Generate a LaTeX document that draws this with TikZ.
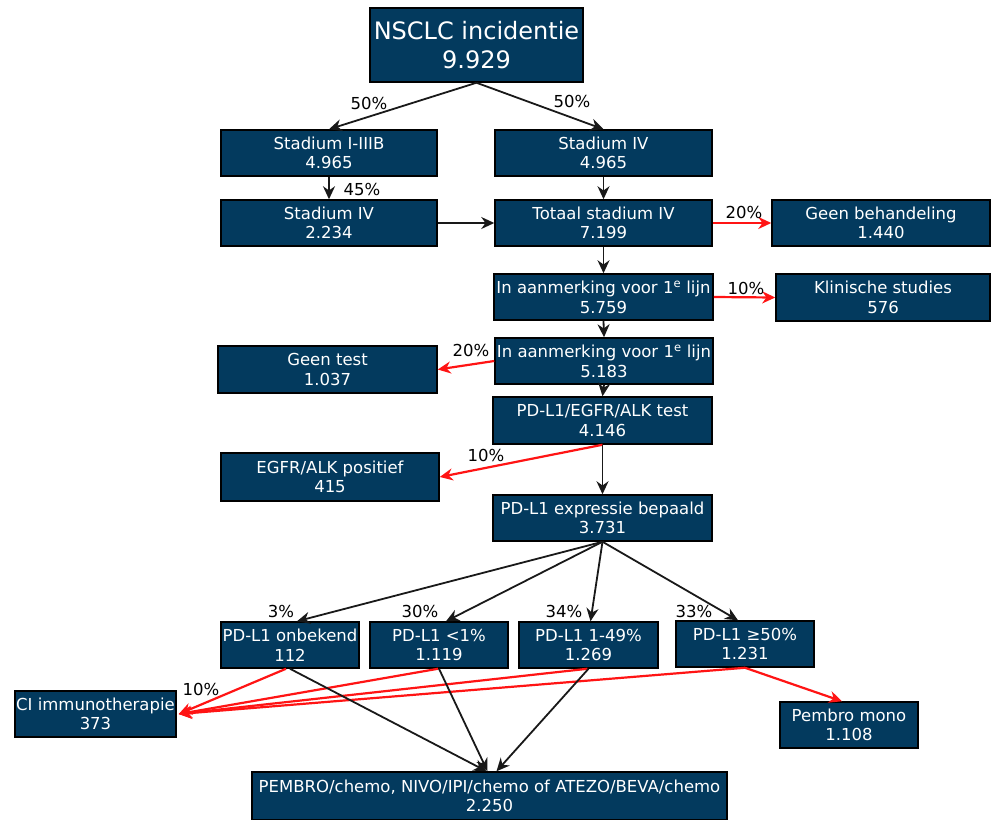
\documentclass[tikz,border=0pt]{standalone}
\usepackage{fontspec}
\setmainfont{DejaVu Sans}
\usetikzlibrary{arrows.meta,calc}
\definecolor{navy}{RGB}{3,58,94}
\definecolor{redline}{RGB}{255,20,20}
\tikzset{
  box/.style={draw=black, line width=1.5pt, fill=navy, text=white, align=center,
    inner sep=0pt, font=\fontsize{16.5}{19.5}\selectfont},
  pct/.style={text=black, inner sep=0pt, font=\fontsize{16.5}{19}\selectfont},
  blk/.style={draw=black!90, line width=1.8pt, -{Stealth[length=13pt,width=12pt]}},
  red/.style={draw=redline, line width=2.2pt, -{Stealth[length=13pt,width=12pt]}},
}
\begin{document}
\begin{tikzpicture}[x=1pt,y=-1pt]
\useasboundingbox[fill=white] (0,0) rectangle (992,819);
% nodes
\node[box, minimum width=213, minimum height=74, font=\fontsize{24}{29}\selectfont] (nsclc) at (476.5,45) {NSCLC incidentie\\9.929};
\node[box, minimum width=216, minimum height=46] (s13) at (329,153) {Stadium I-IIIB\\4.965};
\node[box, minimum width=217, minimum height=46] (s4r) at (603.5,153) {Stadium IV\\4.965};
\node[box, minimum width=216, minimum height=46] (s4l) at (329,223) {Stadium IV\\2.234};
\node[box, minimum width=217, minimum height=46] (tot) at (603.5,223) {Totaal stadium IV\\7.199};
\node[box, minimum width=218, minimum height=46] (geen) at (881,223) {Geen behandeling\\1.440};
\node[box, minimum width=219, minimum height=46] (aan1) at (603.5,297) {In aanmerking voor 1\textsuperscript{e} lijn\\5.759};
\node[box, minimum width=214, minimum height=47] (klin) at (883,297.5) {Klinische studies\\576};
\node[box, minimum width=218, minimum height=46] (aan2) at (604,361) {In aanmerking voor 1\textsuperscript{e} lijn\\5.183};
\node[box, minimum width=219, minimum height=47] (gtest) at (327.5,369.5) {Geen test\\1.037};
\node[box, minimum width=219, minimum height=47] (pdtest) at (602.5,420.5) {PD-L1/EGFR/ALK test\\4.146};
\node[box, minimum width=218, minimum height=48] (egfr) at (330,477) {EGFR/ALK positief\\415};
\node[box, minimum width=219, minimum height=46] (expr) at (602.5,518) {PD-L1 expressie bepaald\\3.731};
\node[box, minimum width=138, minimum height=46] (onb) at (290,645) {PD-L1 onbekend\\112};
\node[box, minimum width=138, minimum height=46] (lt1) at (439,645) {PD-L1 <1\%\\1.119};
\node[box, minimum width=139, minimum height=46] (l149) at (588.5,645) {PD-L1 1-49\%\\1.269};
\node[box, minimum width=138, minimum height=46] (ge50) at (745,644) {PD-L1 ≥50\%\\1.231};
\node[box, minimum width=161, minimum height=46] (ci) at (95.5,714) {CI immunotherapie\\373};
\node[box, minimum width=138, minimum height=46] (pmono) at (849,725) {Pembro mono\\1.108};
\node[box, minimum width=475, minimum height=48] (pembro) at (489.5,796) {PEMBRO/chemo, NIVO/IPI/chemo of ATEZO/BEVA/chemo\\2.250};
% connectors
\draw[blk] (nsclc.south) -- (s13.north);
\draw[blk] (nsclc.south) -- (s4r.north);
\draw[blk] (s13.south) -- (s4l.north);
\draw[blk] (s4r.south) -- (tot.north);
\draw[blk] (s4l.east) -- (tot.west);
\draw[red] (tot.east) -- (geen.west);
\draw[blk] (tot.south) -- (aan1.north);
\draw[red] (aan1.east) -- (klin.west);
\draw[blk] (aan1.south) -- (aan2.north);
\draw[red] (aan2.west) -- (gtest.east);
\draw[blk] (aan2.south) -- (pdtest.north);
\draw[red] (pdtest.south) -- (egfr.east);
\draw[blk] (pdtest.south) -- (expr.north);
\draw[blk] (expr.south) -- ([xshift=7pt]onb.north);
\draw[blk] (expr.south) -- ([xshift=7pt]lt1.north);
\draw[blk] (expr.south) -- ([xshift=2pt]l149.north);
\draw[blk] (expr.south) -- ([xshift=-7pt]ge50.north);
\draw[red] ([xshift=-4pt]onb.south) -- ([xshift=2pt]ci.east);
\draw[red] ([xshift=-1pt]lt1.south) -- ([xshift=2pt]ci.east);
\draw[red] ([xshift=-1pt]l149.south) -- ([xshift=2pt]ci.east);
\draw[red] (ge50.south) -- ([xshift=2pt]ci.east);
\draw[red] (ge50.south) -- ([xshift=-7pt]pmono.north);
\draw[blk] (onb.south) -- ([xshift=-3pt]pembro.north);
\draw[blk] (lt1.south) -- ([xshift=-2pt]pembro.north);
\draw[blk] (l149.south) -- ([xshift=7pt]pembro.north);
% labels
\node[pct] (p1) at (369,103) {50\%};
\node[pct] (p2) at (572,101) {50\%};
\node[pct] (p3) at (362,189) {45\%};
\node[pct] (p4) at (744,212) {20\%};
\node[pct] (p5) at (746,288) {10\%};
\node[pct] (p6) at (471,350) {20\%};
\node[pct] (p7) at (486,455) {10\%};
\node[pct] (p8) at (281,611) {3\%};
\node[pct] (p9) at (420,611) {30\%};
\node[pct] (p10) at (564,611) {34\%};
\node[pct] (p11) at (694,611) {33\%};
\node[pct] (p12) at (201,689) {10\%};
\end{tikzpicture}
\end{document}
